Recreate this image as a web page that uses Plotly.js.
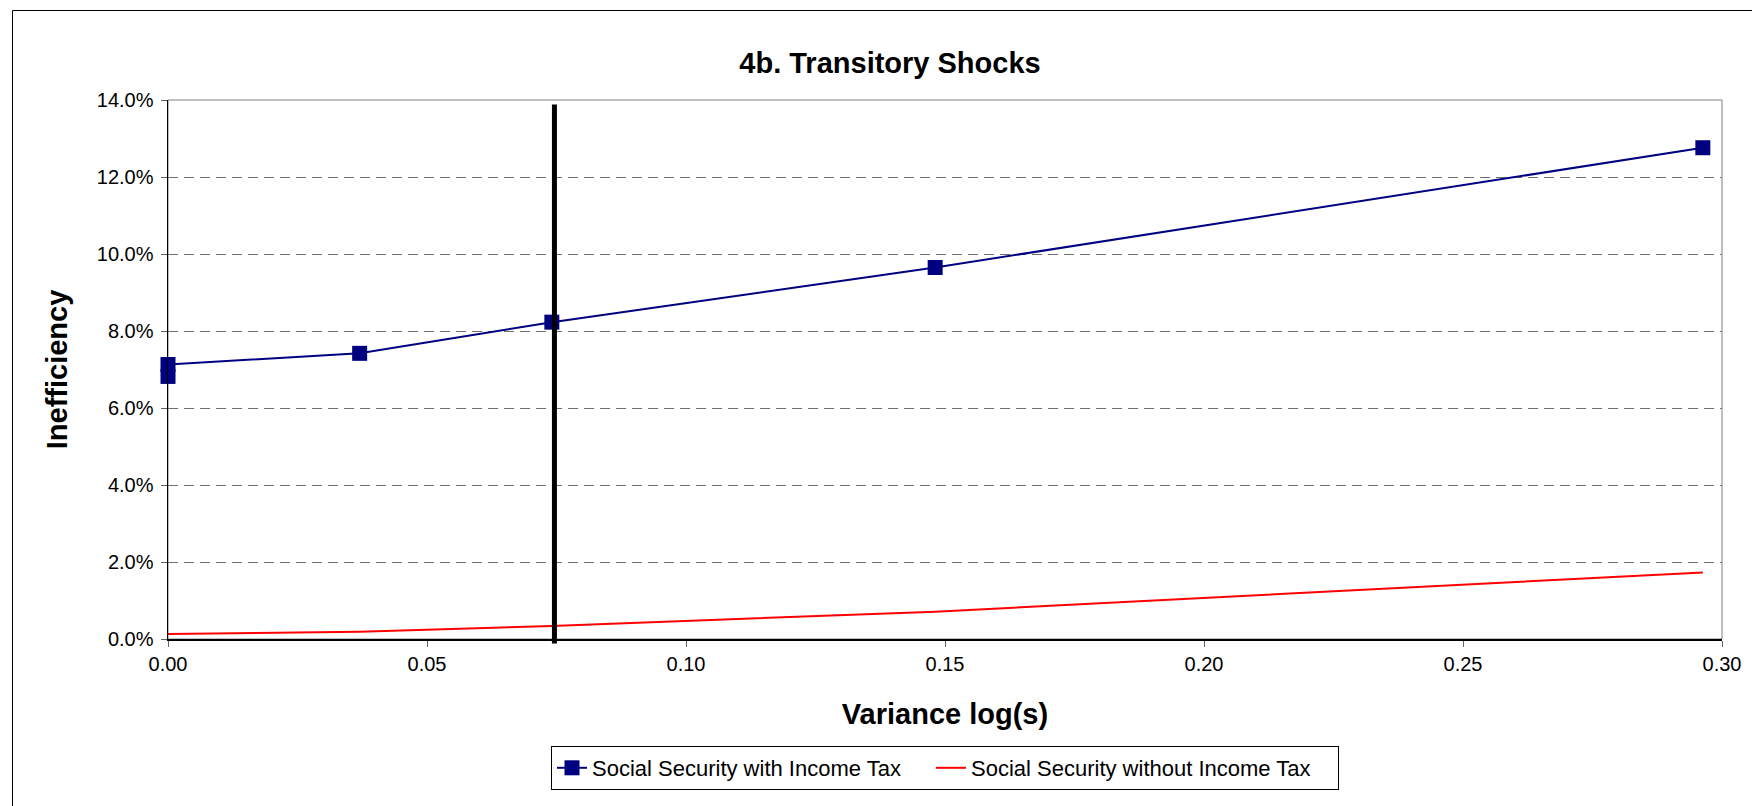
<!DOCTYPE html>
<html>
<head>
<meta charset="utf-8">
<script src="https://cdn.plot.ly/plotly-3.0.1.min.js"></script>
<style>
  html, body { margin: 0; padding: 0; background: #ffffff; }
  #chart { width: 1752px; height: 806px; }
</style>
</head>
<body>
<div id="chart"></div>
<script>
// ---- data ----
var chartTitle = "4b. Transitory Shocks";
var xTitle = "Variance log(s)";
var yTitle = "Inefficiency";

var withTaxName = "Social Security with Income Tax";
var withTaxX = [0, 0, 0.0370, 0.0741, 0.1481, 0.2963];
var withTaxY = [0.0682, 0.0713, 0.0742, 0.0823, 0.0965, 0.1276];

var withoutTaxName = "Social Security without Income Tax";
var withoutTaxX = [0, 0.0370, 0.0741, 0.1481, 0.2963];
var withoutTaxY = [0.0013, 0.0019, 0.0034, 0.0071, 0.0173];

var markerLineX = 0.0746;
var markerLineY = [-0.0012, 0.1388];

var yRange = [0, 0.14];
var xRange = [0, 0.30];

// ---- chart ----
var FONT = "Liberation Sans, Arial, Helvetica, sans-serif";

var traces = [
  {
    type: "scatter", mode: "lines+markers", name: withTaxName,
    x: withTaxX, y: withTaxY,
    line: { color: "#000080", width: 2 },
    marker: { symbol: "square", size: 15, color: "#000080" },
    cliponaxis: false,
    legendwidth: 334
  },
  {
    type: "scatter", mode: "lines", name: withoutTaxName,
    x: withoutTaxX, y: withoutTaxY,
    line: { color: "#FF0000", width: 2 },
    legendwidth: 362
  }
];

// plot area in pixels: x 168..1722, y 100..639
var L = 168, R = 1722, T = 100, B = 639, W = 1752, H = 806;
function px2paperX(px) { return (px - L) / (R - L); }
function px2paperY(py) { return (B - py) / (B - T); }

var shapes = [
  // plot area frame (gray)
  { type: "rect", xref: "paper", yref: "paper", x0: 0, x1: 1, y0: 0, y1: 1,
    line: { color: "#808080", width: 1 }, layer: "below" },
  // outer chart border (left & top visible)
  { type: "line", xref: "paper", yref: "paper",
    x0: px2paperX(12.5), x1: px2paperX(12.5), y0: px2paperY(10.5), y1: px2paperY(806),
    line: { color: "#000000", width: 1 } },
  { type: "line", xref: "paper", yref: "paper",
    x0: px2paperX(12.5), x1: px2paperX(1752), y0: px2paperY(10.5), y1: px2paperY(10.5),
    line: { color: "#000000", width: 1 } },
  // vertical marker line
  { type: "line", xref: "x", yref: "paper",
    x0: markerLineX, x1: markerLineX,
    y0: (markerLineY[0] - yRange[0]) / (yRange[1] - yRange[0]),
    y1: (markerLineY[1] - yRange[0]) / (yRange[1] - yRange[0]),
    line: { color: "#000000", width: 5 }, layer: "above" }
];

var layout = {
  width: W, height: H,
  paper_bgcolor: "#ffffff", plot_bgcolor: "#ffffff",
  margin: { l: L, r: W - R, t: T, b: H - B, pad: 0 },
  font: { family: FONT, color: "#000000" },
  showlegend: true,
  title: {
    text: "<b>" + chartTitle + "</b>",
    font: { family: FONT, size: 29, color: "#000000" },
    xref: "container", x: 890 / W, xanchor: "center",
    yref: "container", y: 1 - 63 / H, yanchor: "middle"
  },
  xaxis: {
    range: xRange, dtick: 0.05, tick0: 0, tickformat: ".2f",
    showline: true, linecolor: "#000000", linewidth: 2,
    ticks: "outside", ticklen: 6, tickcolor: "#666666", tickwidth: 1,
    showgrid: false, zeroline: false,
    tickfont: { family: FONT, size: 20, color: "#000000" },
    title: { text: "<b>" + xTitle + "</b>", font: { family: FONT, size: 29, color: "#000000" }, standoff: 30 },
    automargin: false, fixedrange: true
  },
  yaxis: {
    range: yRange, dtick: 0.02, tick0: 0, tickformat: ".1%",
    showline: true, linecolor: "#000000", linewidth: 1.5,
    ticks: "outside", ticklen: 6, tickcolor: "#666666", tickwidth: 1,
    ticklabelstandoff: 3,
    showgrid: true, gridcolor: "#6e6e6e", gridwidth: 1, griddash: "10px,6px",
    zeroline: false,
    tickfont: { family: FONT, size: 20, color: "#000000" },
    title: { text: "<b>" + yTitle + "</b>", font: { family: FONT, size: 29, color: "#000000" }, standoff: 20 },
    automargin: false, fixedrange: true
  },
  legend: {
    orientation: "h",
    xref: "paper", yref: "paper",
    x: 0.5, xanchor: "center",
    y: px2paperY(746), yanchor: "top",
    bordercolor: "#000000", borderwidth: 1, bgcolor: "#ffffff",
    font: { family: FONT, size: 22, color: "#000000" },
    itemwidth: 30, tracegroupgap: 0
  },
  shapes: shapes
};

Plotly.newPlot("chart", traces, layout, { displayModeBar: false, staticPlot: true });
</script>
</body>
</html>
